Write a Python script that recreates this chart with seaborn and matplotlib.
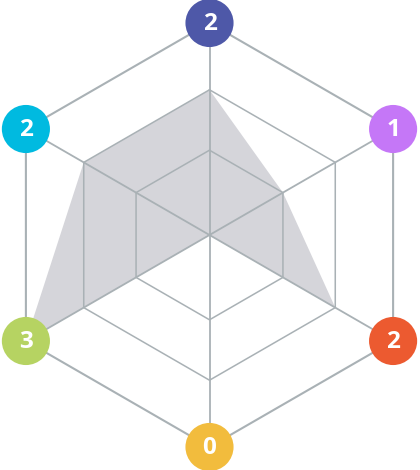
import numpy as np
import pandas as pd
import matplotlib
matplotlib.use("Agg")
import matplotlib.pyplot as plt
import seaborn as sns

# data: six axes, clockwise from top
axes_names = ["A", "B", "C", "D", "E", "F"]
values = [2, 1, 2, 0, 3, 2]
colors = ["#4E58A8", "#C577F7", "#EC5A30", "#F2BC3D", "#B6D362", "#00BAE0"]
levels = [1, 2, 3]
# radius fraction for each grid level (as drawn in reference)
level_frac = [0.0, 0.40, 0.685, 1.0]

sns.set_theme(style="white")
plt.rcParams['font.family'] = ['Open Sans', 'DejaVu Sans']

fig = plt.figure(figsize=(4.2, 4.7), dpi=100)
ax = fig.add_axes([0, 0, 1, 1])

cx, cy, R = 209.5, 235, 212
n = len(values)
ang = np.deg2rad(90 - 60 * np.arange(n))

def to_xy(frac):
    frac = np.asarray(frac, dtype=float)
    return cx + R * frac * np.cos(ang), cy - R * frac * np.sin(ang)

def val_frac(v):
    return np.interp(v, [0, 1, 2, 3], level_frac)

grid_col = "#A9B1B5"
# data polygon
px, py = to_xy(val_frac(np.array(values)))
ax.fill(px, py, color="#D5D5DA", zorder=1, lw=0)

# grid hexagons
for lv in levels:
    fr = level_frac[lv]
    gx, gy = to_xy(np.full(n, fr))
    lw = 1.5 if lv == levels[-1] else 1.1
    ax.plot(np.append(gx, gx[0]), np.append(gy, gy[0]), color=grid_col, lw=lw, zorder=2)

# spokes
ox, oy = to_xy(np.ones(n))
for x, y in zip(ox, oy):
    ax.plot([cx, x], [cy, y], color=grid_col, lw=1.3, zorder=2)

df = pd.DataFrame({"x": ox, "y": oy, "name": axes_names, "value": values})
sns.scatterplot(data=df, x="x", y="y", hue="name", palette=colors, s=1200,
                linewidth=0, legend=False, ax=ax, zorder=3)
ax.set_xlim(0, 420)
ax.set_ylim(470, 0)
ax.set_axis_off()

for x, y, v in zip(ox, oy, values):
    ax.text(x, y + 1, str(v), ha="center", va="center", color="white",
            fontsize=17.5, fontweight="bold", zorder=4)

fig.savefig("out.png", dpi=100)
